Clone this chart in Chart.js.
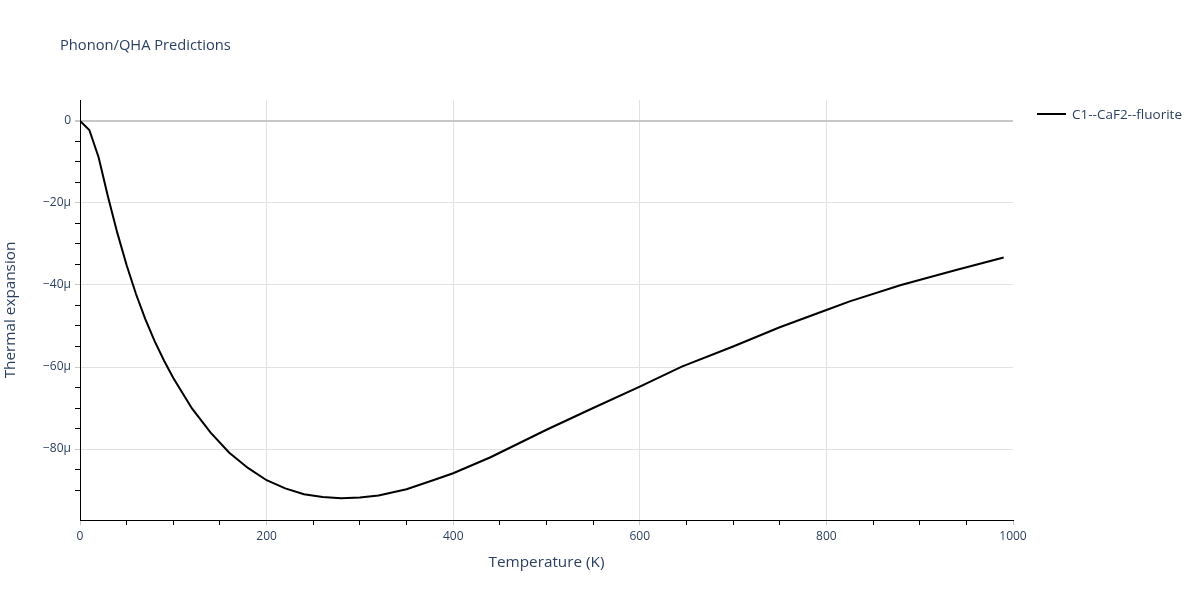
<!DOCTYPE html>
<html>
<head>
<meta charset="utf-8">
<script src="https://cdn.jsdelivr.net/npm/chart.js@4.4.1/dist/chart.umd.min.js"></script>
<style>
  html, body { margin: 0; background: #fff; }
  #wrap { width: 1200px; height: 600px; }
</style>
</head>
<body>
<div id="wrap"><canvas id="chart" width="1200" height="600"></canvas></div>
<script>
// ── Data (temperature in K, thermal expansion in µ/K) ─────
const temps = [0, 10, 20, 30, 40, 50, 60, 70, 80, 90, 100, 120, 140, 160, 180,
  200, 220, 240, 260, 280, 300, 320, 350, 380, 400, 440, 500, 550, 600, 645,
  700, 750, 800, 825, 880, 940, 990];
const expansion = [0, -2.2, -8.9, -18.5, -27.3, -35.2, -42.2, -48.3, -53.7, -58.4,
  -62.7, -70.1, -76.0, -80.9, -84.6, -87.6, -89.6, -91.0, -91.7, -92.0, -91.8,
  -91.3, -89.8, -87.5, -85.9, -82.0, -75.3, -70.0, -64.8, -59.9, -55.0, -50.3,
  -46.1, -44.0, -40.0, -36.3, -33.3];
const seriesName = "C1--CaF2--fluorite";
const chartTitle = "Phonon/QHA Predictions";
const xLabelStep = 200;
const yLabelStep = 20;

const FONT = "'Open Sans', 'DejaVu Sans', sans-serif";
const TEXT = "#2a3f5f";
const GRID = "#e2e2e2";

const isMult = (v, s) => Math.abs(v / s - Math.round(v / s)) < 1e-6;

// ── Title + legend drawn on canvas ────────────────────────
const extras = {
  id: "extras",
  afterDraw(chart) {
    const c = chart.ctx;
    c.save();
    c.fillStyle = TEXT;
    c.textBaseline = "middle";
    c.font = "14.7px " + FONT;
    c.fillText(chartTitle, 60, 46);
    c.strokeStyle = "#000";
    c.lineWidth = 2;
    c.beginPath();
    c.moveTo(1037, 114);
    c.lineTo(1066, 114);
    c.stroke();
    c.font = "13.5px " + FONT;
    c.fillText(seriesName, 1072, 115);
    c.restore();
  }
};

new Chart(document.getElementById("chart"), {
  type: "line",
  data: {
    datasets: [{
      label: seriesName,
      data: temps.map((t, i) => ({ x: t, y: expansion[i] })),
      borderColor: "#000",
      borderWidth: 2,
      pointRadius: 0,
      tension: 0,
      fill: false,
    }]
  },
  options: {
    responsive: false,
    animation: false,
    devicePixelRatio: 1,
    layout: { padding: { left: 0, top: 100, right: 187, bottom: 0 } },
    plugins: { legend: { display: false }, title: { display: false }, tooltip: { enabled: false } },
    scales: {
      x: {
        type: "linear",
        min: 0, max: 1000,
        afterFit: s => { s.height = 80; },
        border: { display: true, color: "#000", width: 1 },
        grid: {
          color: ctx => (ctx.tick && isMult(ctx.tick.value, xLabelStep) && ctx.tick.value < 1000) ? GRID : "rgba(0,0,0,0)",
          tickColor: ctx => (ctx.tick && isMult(ctx.tick.value, xLabelStep)) ? "#c8c8c8" : "#000",
          tickLength: 5,
        },
        ticks: {
          stepSize: 50,
          maxRotation: 0,
          autoSkip: false,
          padding: 4,
          color: TEXT,
          font: { family: FONT, size: 12 },
          callback: v => isMult(v, xLabelStep) ? String(v) : "",
        },
        title: {
          display: true,
          text: "Temperature (K)",
          color: TEXT,
          font: { family: FONT, size: 15.3 },
          padding: { top: 0, bottom: 28 },
        },
      },
      y: {
        type: "linear",
        min: -97.3, max: 5.1,
        afterFit: s => { s.width = 80; },
        afterBuildTicks: s => { s.ticks = s.ticks.filter(t => isMult(t.value, 5)); },
        border: { display: true, color: "#000", width: 1 },
        grid: {
          color: ctx => {
            if (!ctx.tick) return "rgba(0,0,0,0)";
            if (Math.abs(ctx.tick.value) < 1e-6) return "#c8c8c8";
            return isMult(ctx.tick.value, yLabelStep) ? GRID : "rgba(0,0,0,0)";
          },
          lineWidth: ctx => (ctx.tick && Math.abs(ctx.tick.value) < 1e-6) ? 2 : 1,
          tickColor: ctx => (ctx.tick && isMult(ctx.tick.value, yLabelStep)) ? "#c8c8c8" : "#000",
          tickLength: 5,
        },
        ticks: {
          stepSize: 5,
          autoSkip: false,
          padding: 4,
          color: TEXT,
          font: { family: FONT, size: 12 },
          callback: v => {
            if (!isMult(v, yLabelStep)) return "";
            const r = Math.round(v);
            return r === 0 ? "0" : (r < 0 ? "\u2212" : "") + Math.abs(r) + "\u00b5";
          },
        },
        title: {
          display: true,
          text: "Thermal expansion",
          color: TEXT,
          font: { family: FONT, size: 15.3 },
          padding: { top: 1, bottom: 0 },
        },
      },
    },
  },
  plugins: [extras],
});
</script>
</body>
</html>
